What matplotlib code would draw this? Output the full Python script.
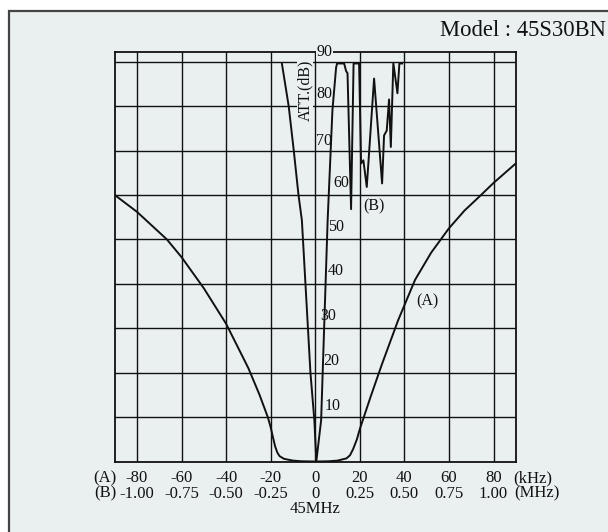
import matplotlib.pyplot as plt
from matplotlib.patches import Rectangle
import matplotlib.transforms as mtrans

# curve (A): attenuation vs offset in kHz
a_khz = [-90, -80, -66.6, -60, -50, -40, -30, -25, -21.3, -20, -19, -18, -17, -16, -14, -10, -6, 0,
         6, 10, 14, 15.6, 17, 18.7, 20, 21.8, 25, 30, 37.2, 44.8, 52, 60, 67, 74, 80, 90]
a_db = [60, 56.2, 50, 46, 39, 31, 21, 15, 10, 7.7, 5.5, 3.4, 2.0, 1.2, 0.6, 0.2, 0.05, 0,
        0.05, 0.2, 0.7, 1.4, 2.8, 5, 7.3, 10, 14.8, 22, 31.8, 40.9, 47, 52.5, 56.5, 59.8, 62.7, 67.1]

# curve (B): attenuation vs offset in MHz
b_mhz = [-0.1872, -0.149, -0.1205, -0.094, -0.075, -0.055, -0.027, -0.005, 0.006,
         0.033, 0.0695, 0.0964, 0.117, 0.1225, 0.162, 0.173, 0.181, 0.201, 0.215, 0.246,
         0.257, 0.270, 0.289, 0.330, 0.375, 0.386, 0.401, 0.414, 0.424, 0.438, 0.461, 0.472, 0.487]
b_db = [89.6, 80, 70, 60, 54.3, 40, 20, 9.3, 0,
        9.3, 54.3, 79.1, 88.7, 89.6, 89.6, 87.9, 87.4, 56.8, 89.6, 89.6,
        67.1, 67.8, 61.8, 86.2, 62.6, 73.4, 74.5, 81.5, 70.8, 89.7, 82.9, 89.6, 89.6]

a_ticks = [-80, -60, -40, -20, 0, 20, 40, 60, 80]
a_labels = ['-80', '-60', '-40', '-20', '0', '20', '40', '60', '80']
b_labels = ['-1.00', '-0.75', '-0.50', '-0.25', '0', '0.25', '0.50', '0.75', '1.00']
db_levels = [10, 20, 30, 40, 50, 60, 70, 80, 90]

khz_per_mhz = 80.0   # 1.00 MHz on scale (B) sits on 80 kHz of scale (A)

bg = '#eaf0f0'
ink = '#111111'
plt.rcParams['font.family'] = ['Liberation Serif', 'DejaVu Serif']

fig = plt.figure(figsize=(6.08, 5.32), dpi=100)
fig.patch.set_facecolor('white')
# outer frame
fig.patches.append(Rectangle((9 / 608, -0.1), 1.2, 1 - 11 / 532 + 0.1, transform=fig.transFigure,
                             facecolor=bg, edgecolor='#444444', lw=1.6, zorder=-10))

ax = fig.add_axes([114.7 / 608, 1 - 461.5 / 532, 401.1 / 608, 409.8 / 532])
ax.set_facecolor(bg)
ax.set_xlim(-90, 90)
ax.set_ylim(0, 92.25)
for s in ax.spines.values():
    s.set_color(ink)
    s.set_linewidth(1.3)
ax.set_xticks([])
ax.set_yticks([])

for x in a_ticks:
    ax.axvline(x, color=ink, lw=1.0, zorder=1)
for y in db_levels:
    ax.axhline(y, color=ink, lw=1.0, zorder=1)

ax.plot(a_khz, a_db, color=ink, lw=1.4, zorder=3)
ax.plot([v * khz_per_mhz for v in b_mhz], b_db, color=ink, lw=1.4, zorder=3, clip_on=False)

# dB labels next to the 0 line
lab_pos = {90: (0.4, 92.2), 80: (0.4, 82.7), 70: (0.4, 72.1), 60: (8.2, 62.6), 50: (5.8, 52.7),
           40: (5.8, 42.8), 30: (2.2, 32.7), 20: (3.5, 22.6), 10: (4.0, 12.4)}
for lv in db_levels:
    x, y = lab_pos[lv]
    kw = {}
    if lv == 90:
        kw['bbox'] = dict(facecolor=bg, edgecolor='none', pad=0.5)
    ax.text(x, y, str(lv), ha='left', va='center', fontsize=11.5, color=ink, zorder=4, **kw)

ax.text(-4.6, 83.6, 'ATT.(dB)', rotation=90, ha='center', va='center', fontsize=11.5, color=ink,
        zorder=4, bbox=dict(facecolor=bg, edgecolor='none', pad=0.3))
ax.text(26.5, 57.5, '(B)', ha='center', va='center', fontsize=11.5, color=ink, zorder=4)
ax.text(50.2, 36.1, '(A)', ha='center', va='center', fontsize=11.5, color=ink, zorder=4)

# bottom scales
tr = mtrans.blended_transform_factory(ax.transData, ax.transAxes)
for x, la, lb in zip(a_ticks, a_labels, b_labels):
    ax.text(x, -0.040, la, transform=tr, ha='center', va='center', fontsize=12, color=ink)
    ax.text(x, -0.079, lb, transform=tr, ha='center', va='center', fontsize=12, color=ink)
ax.text(-94.2, -0.040, '(A)', transform=tr, ha='center', va='center', fontsize=12, color=ink)
ax.text(-94.2, -0.079, '(B)', transform=tr, ha='center', va='center', fontsize=12, color=ink)
ax.text(97.7, -0.040, '(kHz)', transform=tr, ha='center', va='center', fontsize=12, color=ink)
ax.text(99.5, -0.079, '(MHz)', transform=tr, ha='center', va='center', fontsize=12, color=ink)
ax.text(0, -0.116, '45MHz', transform=tr, ha='center', va='center', fontsize=12, color=ink)

fig.text(606 / 608, 1 - 30 / 532, 'Model : 45S30BN', ha='right', va='center', fontsize=16.3, color=ink)

fig.savefig('out.png', dpi=100, facecolor=fig.get_facecolor())
